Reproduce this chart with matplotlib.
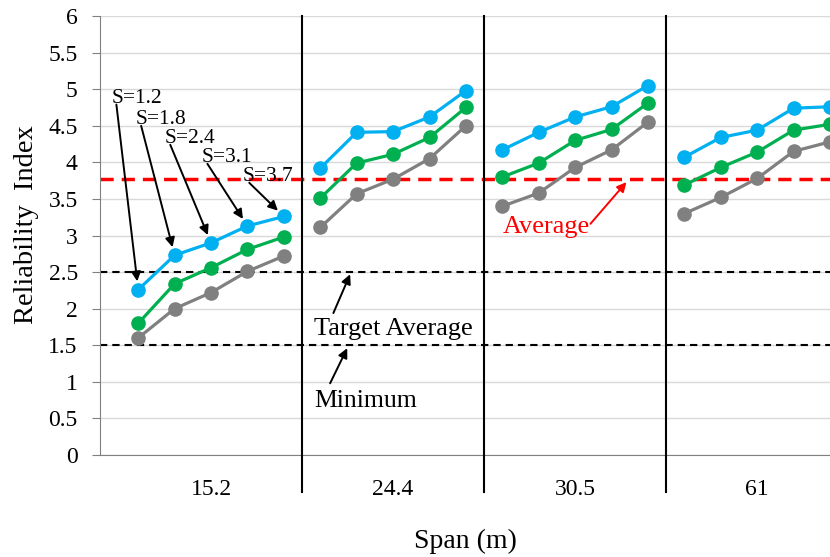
import numpy as np
import matplotlib
matplotlib.use('Agg')
import matplotlib.pyplot as plt

plt.rcParams['font.family'] = ['Liberation Serif', 'DejaVu Serif']

# data
spans = ['15.2', '24.4', '30.5', '61']
s_labels = ['S=1.2', 'S=1.8', 'S=2.4', 'S=3.1', 'S=3.7']
blue = [2.26, 2.73, 2.90, 3.13, 3.26,
        3.92, 4.41, 4.42, 4.62, 4.98,
        4.17, 4.41, 4.62, 4.76, 5.05,
        4.07, 4.34, 4.44, 4.74, 4.76]
green = [1.80, 2.34, 2.56, 2.81, 2.98,
         3.51, 3.99, 4.11, 4.34, 4.75,
         3.80, 3.99, 4.30, 4.45, 4.81,
         3.69, 3.93, 4.14, 4.44, 4.52]
gray = [1.60, 2.00, 2.22, 2.51, 2.72,
        3.11, 3.57, 3.77, 4.05, 4.50,
        3.40, 3.58, 3.93, 4.17, 4.55,
        3.30, 3.52, 3.78, 4.15, 4.28]
average = 3.77
target_average = 2.5
minimum = 1.5

n = len(s_labels)
x = np.arange(len(spans) * n)

fig = plt.figure(figsize=(8.3, 5.57), dpi=100)
ax = fig.add_axes([100 / 830, 102 / 557, 730 / 830, 439 / 557])

# gridlines
ax.set_ylim(0, 6)
ax.set_yticks(np.arange(0, 6.01, 0.5))
ax.set_yticklabels(['0', '0.5', '1', '1.5', '2', '2.5', '3', '3.5', '4', '4.5', '5', '5.5', '6'])
ax.yaxis.grid(True, color='#d9d9d9', lw=1)
ax.set_axisbelow(True)

# reference lines
ax.axhline(average, color='#ff0000', lw=2.5, ls=(0, (3.8, 2.3)), zorder=2)
ax.axhline(target_average, color='black', lw=1.5, ls=(0, (3.5, 2.4)), zorder=2)
ax.axhline(minimum, color='black', lw=1.5, ls=(0, (3.5, 2.4)), zorder=2)

# series, one line segment per span group
for vals, col in [(gray, '#808080'), (green, '#00b050'), (blue, '#00b0f0')]:
    for g in range(len(spans)):
        sl = slice(g * n, (g + 1) * n)
        ax.plot(x[sl], vals[sl], color=col, lw=2.3, marker='o', ms=9.5,
                zorder=3, clip_on=False)

ax.set_xlim(-1.05, 19.0)

# group separators reaching below the axis
for g in range(1, len(spans)):
    xs = g * n - 0.5
    ax.plot([xs, xs], [-0.5, 6], color='black', lw=1.5, clip_on=False, zorder=4)

ax.set_xticks([g * n + (n - 1) / 2 for g in range(len(spans))])
ax.set_xticklabels(spans)
ax.tick_params(axis='x', length=0, pad=17, labelsize=17)
ax.tick_params(axis='y', length=6, color='#808080', labelsize=17, pad=10)

for s in ['top', 'right']:
    ax.spines[s].set_visible(False)
ax.spines['left'].set_color('#808080')
ax.spines['bottom'].set_color('#808080')

ax.set_xlabel('Span (m)', fontsize=20, labelpad=21)
ax.set_ylabel('Reliability  Index', fontsize=20.5)
ax.yaxis.set_label_coords(-0.084, 0.524)

# S annotations pointing at the first group's blue points
text_pos = [(-0.72, 4.81), (-0.08, 4.53), (0.72, 4.27), (1.75, 4.01), (2.88, 3.75)]
arrow_start = [(-0.60, 4.79), (0.08, 4.50), (0.88, 4.24), (1.90, 3.98), (3.05, 3.72)]
aprops = dict(arrowstyle='-|>', color='black', lw=1.4, mutation_scale=14, shrinkA=0, shrinkB=6)
for i, lab in enumerate(s_labels):
    ax.text(text_pos[i][0], text_pos[i][1], lab, fontsize=15.5, ha='left', va='baseline', zorder=5)
    ax.annotate('', xy=(x[i], blue[i]), xytext=arrow_start[i], arrowprops=aprops, zorder=5)

ax.text(7.0, 1.64, 'Target Average', fontsize=19, ha='center', va='baseline')
ax.annotate('', xy=(5.82, target_average - 0.03), xytext=(5.36, 1.94),
            arrowprops=dict(aprops, shrinkB=0))
ax.text(6.26, 0.66, 'Minimum', fontsize=18.5, ha='center', va='baseline')
ax.annotate('', xy=(5.74, minimum - 0.04), xytext=(5.27, 0.98),
            arrowprops=dict(aprops, shrinkB=0))
ax.text(11.2, 3.03, 'Average', fontsize=19, color='#ff0000', ha='center', va='baseline')
ax.annotate('', xy=(13.41, average - 0.04), xytext=(12.42, 3.16),
            arrowprops=dict(aprops, color='#ff0000', shrinkB=0))

fig.savefig('out.png', dpi=100)
